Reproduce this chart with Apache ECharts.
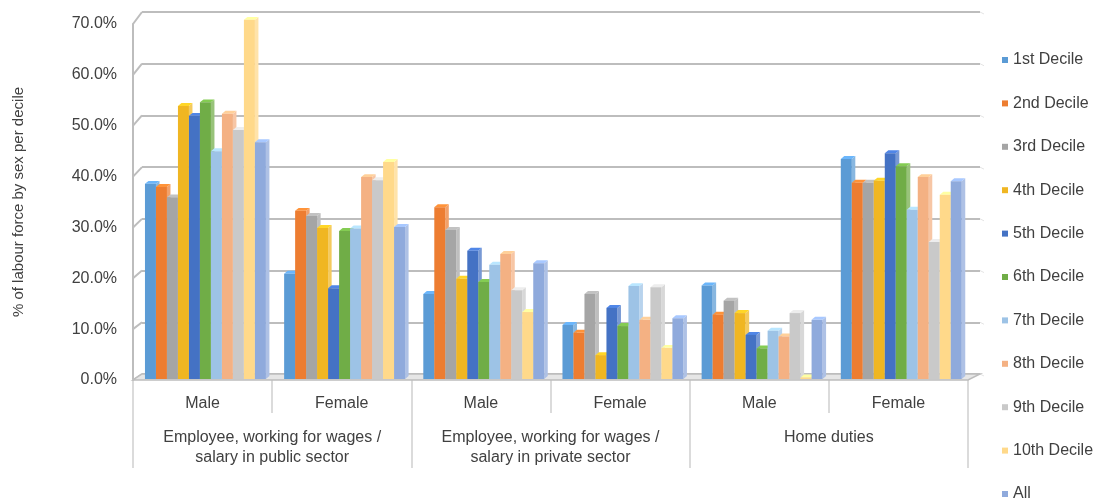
<!DOCTYPE html>
<html>
<head>
<meta charset="utf-8">
<script src="https://cdn.jsdelivr.net/npm/echarts@6/dist/echarts.min.js"></script>
<style>
  html, body { margin: 0; padding: 0; background: #ffffff; }
  #chart { width: 1105px; height: 499px; }
</style>
</head>
<body>
<div id="chart"></div>
<script>
// Category labels (inner level: sex, outer level: activity)
const sexes = ['Male', 'Female', 'Male', 'Female', 'Male', 'Female'];
const activities = [
  'Employee, working for wages /\nsalary in public sector',
  'Employee, working for wages /\nsalary in private sector',
  'Home duties'
];
const seriesNames = ['1st Decile', '2nd Decile', '3rd Decile', '4th Decile', '5th Decile',
  '6th Decile', '7th Decile', '8th Decile', '9th Decile', '10th Decile', 'All'];
const yTicks = [0, 10, 20, 30, 40, 50, 60, 70];

// % of labour force by sex per decile, one value per category (same order as sexes)
const decile1  = [37.6, 20.3, 16.4, 10.4, 18.0, 42.4];
const decile2  = [37.0, 32.4, 33.1,  8.9, 12.4, 37.8];
const decile3  = [35.0, 31.4, 28.7, 16.4, 15.1, 37.8];
const decile4  = [52.6, 29.1, 19.3,  4.6, 12.7, 38.2];
const decile5  = [50.7, 17.5, 24.7, 13.7,  8.5, 43.5];
const decile6  = [53.3, 28.5, 18.7, 10.2,  5.9, 41.0];
const decile7  = [43.9, 29.0, 22.0, 17.9,  9.3, 32.6];
const decile8  = [51.1, 38.9, 24.1, 11.4,  8.2, 38.9];
const decile9  = [48.0, 38.3, 17.1, 17.7, 12.7, 26.4];
const decile10 = [69.2, 41.8, 12.9,  6.0,  0.3, 35.5];
const allDeciles = [45.6, 29.3, 22.3, 11.7, 11.4, 38.1];

const seriesValues = [decile1, decile2, decile3, decile4, decile5, decile6,
  decile7, decile8, decile9, decile10, allDeciles];

const palette = ['#5B9BD5', '#ED7D31', '#A5A5A5', '#F0B622', '#4472C4', '#70AD47',
  '#9DC3E6', '#F4B183', '#C9C9C9', '#FFD98A', '#8FAADC'];

const FONT = '"Liberation Sans", Arial, Helvetica, sans-serif';
const TEXT = '#404040';
const LINE = '#bdbdbd';

// Bar layout inside one category band (fractions of the band width)
const LEAD = 0.086;    // empty space before the first bar
const PITCH = 0.079;   // width of one bar's front face
const DEPTH_X = 0.32;  // 3D depth, as a fraction of the bar width
const DEPTH_Y = 0.27;

function shade(c, k) {
  return echarts.color.lift(c, k);
}

function makeBarRenderer(seriesIdx) {
  const base = palette[seriesIdx];
  const side = shade(base, 0.28);
  const topc = shade(base, -0.18);
  return function (params, api) {
    const cat = api.value(0);
    const val = api.value(1);
    const p0 = api.coord([cat, 0]);
    const p1 = api.coord([cat, val]);
    const band = api.size([1, 0])[0];
    const w = band * PITCH;
    const dx = w * DEPTH_X;
    const dy = w * DEPTH_Y;
    const x0 = p0[0] - band / 2 + band * LEAD + seriesIdx * w;
    const x1 = x0 + w;
    const yb = p0[1];
    const yt = p1[1];
    return {
      type: 'group',
      children: [
        { type: 'polygon', shape: { points: [[x1, yt], [x1 + dx, yt - dy], [x1 + dx, yb - dy], [x1, yb]] },
          style: { fill: side } },
        { type: 'polygon', shape: { points: [[x0, yt], [x0 + dx, yt - dy], [x1 + dx, yt - dy], [x1, yt]] },
          style: { fill: topc } },
        { type: 'rect', shape: { x: x0, y: yt, width: w, height: yb - yt },
          style: { fill: base } }
      ]
    };
  };
}

const barSeries = seriesNames.map((name, i) => ({
  name: name,
  type: 'custom',
  xAxisIndex: 1,
  yAxisIndex: 1,
  itemStyle: { color: palette[i] },
  renderItem: makeBarRenderer(i),
  encode: { x: 0, y: 1 },
  data: seriesValues[i].map((v, j) => [j, v]),
  z: 3
}));

const chart = echarts.init(document.getElementById('chart'), null, { renderer: 'canvas' });

chart.setOption({
  animation: false,
  textStyle: { fontFamily: FONT },
  grid: [
    // back wall carrying the gridlines
    { left: 142, right: 125, top: 12, bottom: 125 },
    // plot floor with the bars and the category axis
    { left: 133, right: 137, top: 15.7, bottom: 120 },
    // front value axis
    { left: 133, right: 137, top: 24, bottom: 119 }
  ],
  legend: {
    orient: 'vertical',
    left: 1002,
    top: 52,
    height: 480,
    padding: 0,
    itemWidth: 6,
    itemHeight: 6,
    itemGap: 27.4,
    icon: 'rect',
    data: seriesNames,
    textStyle: { fontFamily: FONT, fontSize: 16, color: TEXT, lineHeight: 14 }
  },
  xAxis: [
    { gridIndex: 0, type: 'value', min: 0, max: 1, show: false },
    {
      gridIndex: 1, type: 'category', data: sexes, position: 'bottom',
      axisLine: { show: true, lineStyle: { color: LINE, width: 2 } },
      axisTick: { show: true, length: 34, lineStyle: { color: '#d0d0d0', width: 1.5 } },
      axisLabel: { margin: 15, fontFamily: FONT, fontSize: 16, color: TEXT, lineHeight: 20 },
      splitLine: { show: false }
    },
    {
      gridIndex: 1, type: 'category', data: activities, position: 'bottom',
      axisLine: { show: false },
      axisTick: { show: true, length: 89, lineStyle: { color: '#d0d0d0', width: 1.5 } },
      axisLabel: { margin: 49, fontFamily: FONT, fontSize: 16, color: TEXT, lineHeight: 20, interval: 0 },
      splitLine: { show: false }
    },
    { gridIndex: 2, type: 'value', min: 0, max: 1, show: false }
  ],
  yAxis: [
    {
      gridIndex: 0, type: 'value', min: 0, max: 70, interval: 10,
      axisLine: { show: false }, axisTick: { show: false }, axisLabel: { show: false },
      splitLine: { show: true, lineStyle: { color: LINE, width: 2 } }
    },
    { gridIndex: 1, type: 'value', min: 0, max: 70, interval: 10, show: false },
    {
      gridIndex: 2, type: 'value', min: 0, max: 70, interval: 10,
      name: '% of labour force by sex per decile',
      nameLocation: 'middle',
      nameGap: 107,
      nameTextStyle: { fontFamily: FONT, fontSize: 15, color: TEXT },
      axisLine: { show: true, lineStyle: { color: LINE, width: 2 } },
      axisTick: { show: false },
      axisLabel: {
        margin: 16, fontFamily: FONT, fontSize: 16, color: TEXT,
        formatter: v => v.toFixed(1) + '%'
      },
      splitLine: { show: false }
    }
  ],
  series: barSeries
});

// Wall-to-axis connectors and the floor slab, placed from the axes' own scales
function px(grid, x, y) { return chart.convertToPixel({ gridIndex: grid }, [x, y]); }
const deco = [];
yTicks.forEach(v => {
  const a = px(2, 0, v);
  const b = px(0, 0, v);
  deco.push({ type: 'line', shape: { x1: a[0], y1: a[1], x2: b[0], y2: b[1] },
    style: { stroke: LINE, lineWidth: 2 }, z: 1 });
  const c = px(0, 1, v);
  deco.push({ type: 'line', shape: { x1: c[0], y1: c[1], x2: c[0] + 4, y2: c[1] + 2 },
    style: { stroke: '#e4e4e4', lineWidth: 1 }, z: 1 });
});
const f0 = px(2, 0, 0), f1 = px(2, 1, 0);
const g0 = px(0, 0, 0), g1 = px(0, 1, 0);
deco.push({
  type: 'polygon',
  shape: { points: [[f0[0], f0[1]], [g0[0], g0[1]], [g1[0], g1[1]], [f1[0], f1[1]]] },
  style: { fill: '#e6e6e6', stroke: LINE, lineWidth: 1.5 },
  z: 1
});
chart.setOption({ graphic: { elements: deco } });
</script>
</body>
</html>
